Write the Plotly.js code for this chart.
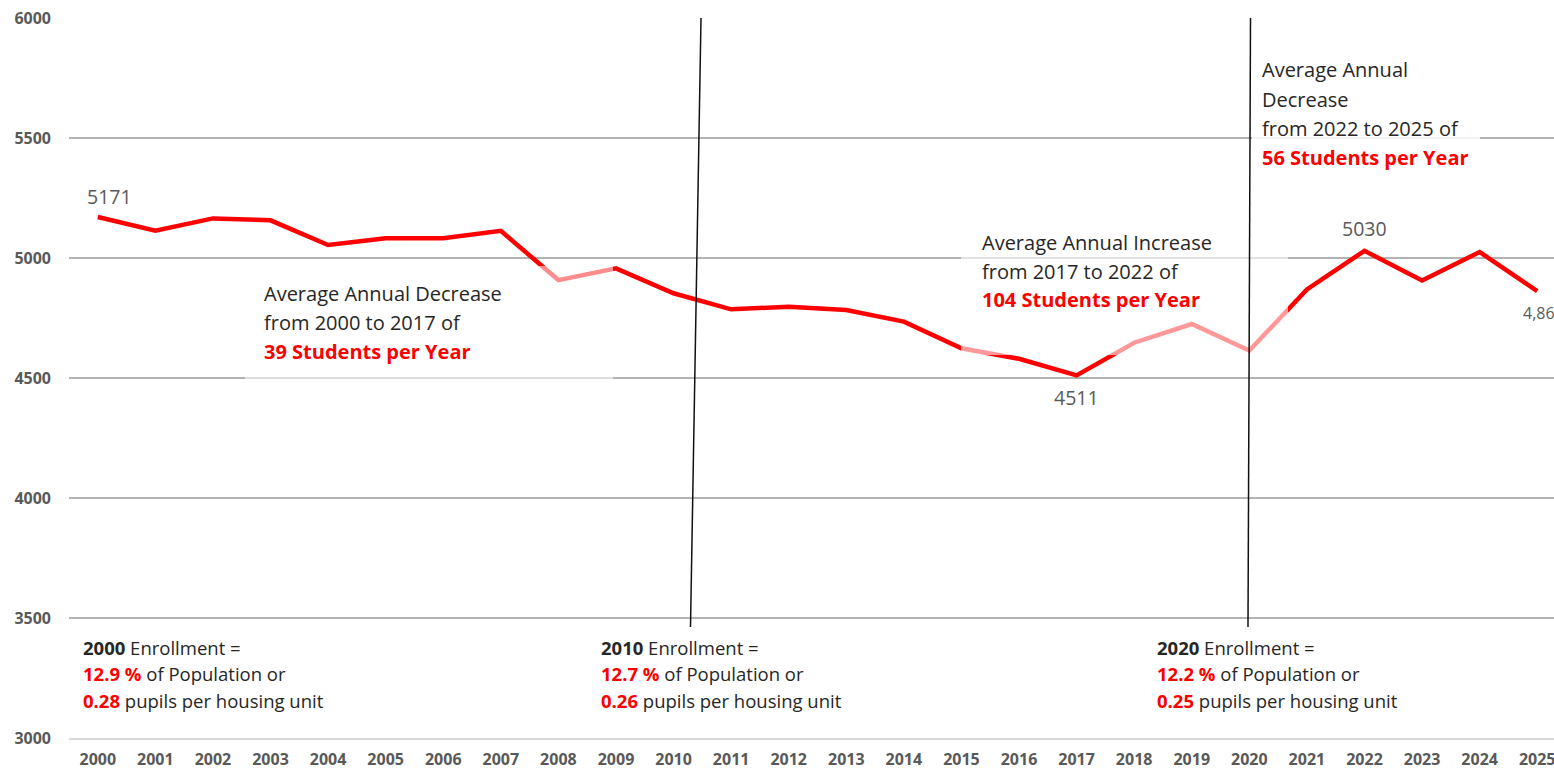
<!DOCTYPE html>
<html>
<head>
<meta charset="utf-8">
<script src="https://cdn.plot.ly/plotly-3.0.1.min.js"></script>
<style>
html,body{margin:0;padding:0;overflow:hidden;background:#fff;}
#chart{width:1580px;height:771px;}
</style>
</head>
<body>
<div id="chart"></div>
<script>
// ---- data ----
const years = [2000,2001,2002,2003,2004,2005,2006,2007,2008,2009,2010,2011,2012,2013,2014,2015,2016,2017,2018,2019,2020,2021,2022,2023,2024,2025];
const enrollment = [5171,5114,5165,5157,5054,5082,5082,5113,4908,4957,4853,4786,4797,4783,4735,4624,4580,4511,4647,4725,4614,4869,5030,4906,5025,4862];
const yTicks = [3000,3500,4000,4500,5000,5500,6000];
const labelledYears = [2000,2017,2022,2025];

const trendNotes = [
  ["Average Annual Decrease", "from 2000 to 2017 of", "39 Students per Year"],
  ["Average Annual Increase", "from 2017 to 2022 of", "104 Students per Year"],
  ["Average Annual", "Decrease", "from 2022 to 2025 of", "56 Students per Year"]
];
const censusYears = ["2000","2010","2020"];
const censusPct = ["12.9 %","12.7 %","12.2 %"];
const censusPupils = ["0.28","0.26","0.25"];

// ---- layout geometry (pixels) ----
const W = 1580, H = 771;
const L = 69, T = 18, PW = 1497, PH = 720;
function px(x){ return (x - L) / PW; }
function py(y){ return 1 - (y - T) / PH; }

const RED = '#ff0000';
const TXT = '#262626';
const GREY = '#595959';
const FONT = '"Open Sans", sans-serif';

const annotations = [];
// data labels
const lblShift = {2000:[12,20],2017:[0,-22],2022:[0,22],2025:[-16,-22]};
labelledYears.forEach(function(yr){
  const i = years.indexOf(yr);
  const v = enrollment[i];
  const txt = (yr === 2025) ? v.toLocaleString('en-US') : String(v);
  annotations.push({
    x: yr, y: v, xref:'x', yref:'y', text: txt, showarrow:false,
    xanchor: yr === 2025 ? 'left' : 'center', yanchor:'middle',
    xshift: lblShift[yr][0], yshift: lblShift[yr][1],
    font:{family:FONT, size: yr === 2025 ? 16 : 19.5, color:GREY}
  });
});

// trend notes
const noteLeft = [262, 980, 1260];
const noteTop = [293, 242, 70];
const lineGap = 29;
trendNotes.forEach(function(lines, k){
  lines.forEach(function(t, j){
    const last = j === lines.length - 1;
    annotations.push({
      xref:'paper', yref:'paper', x: px(noteLeft[k]), y: py(noteTop[k] + j*lineGap),
      xanchor:'left', yanchor:'middle', showarrow:false,
      text: last ? '<b>' + t + '</b>' : t,
      font:{family:FONT, size:20, color: last ? RED : TXT}
    });
  });
});

// census notes
const censusLeft = [81, 599, 1155];
censusYears.forEach(function(yr, k){
  const rows = [
    '<b>' + yr + '</b> Enrollment =',
    '<span style="color:' + RED + '"><b>' + censusPct[k] + '</b></span> of Population or',
    '<span style="color:' + RED + '"><b>' + censusPupils[k] + '</b></span> pupils per housing unit'
  ];
  rows.forEach(function(t, j){
    annotations.push({
      xref:'paper', yref:'paper', x: px(censusLeft[k]), y: py(647 + j*26.5),
      xanchor:'left', yanchor:'middle', showarrow:false, text:t,
      font:{family:FONT, size:18.5, color:TXT}
    });
  });
});

// shapes: faded boxes behind notes, divider lines
function box(x0,y0,x1,y1,op){
  return {type:'rect', xref:'paper', yref:'paper', x0:px(x0), x1:px(x1), y0:py(y1), y1:py(y0),
    fillcolor:'rgba(255,255,255,' + op + ')', line:{width:0}, layer:'above'};
}
function vline(xa,ya,xb,yb){
  return {type:'line', xref:'paper', yref:'paper', x0:px(xa), y0:py(ya), x1:px(xb), y1:py(yb),
    line:{color:'#111', width:1.5}, layer:'above'};
}
const shapes = [
  box(245,266,613,382,0.55),
  box(961,225,1288,355,0.6),
  vline(701,18,690.5,627),
  vline(1250.5,18,1248,627),
  box(1252,45,1480,180,0.85)
];

const trace = {
  x: years, y: enrollment, type:'scatter', mode:'lines',
  line:{color:RED, width:4.5}, hoverinfo:'x+y'
};

const layout = {
  width: W, height: H,
  margin:{l:L, r:W-L-PW, t:T, b:H-T-PH},
  paper_bgcolor:'#fff', plot_bgcolor:'#fff',
  showlegend:false,
  font:{family:FONT},
  xaxis:{
    type:'linear', range:[1999.5,2025.5], tickvals: years, ticktext: years.map(String),
    showgrid:false, zeroline:false, showline:true, linecolor:'#d9d9d9', linewidth:2,
    ticks:'', ticklabelstandoff: 6,
    tickfont:{family:FONT, size:16, color:GREY, weight:'bold'}
  },
  yaxis:{
    range:[3000,6000], tickvals: yTicks, ticktext: yTicks.map(String),
    showgrid:true, gridcolor:'#b3b3b3', gridwidth:2, zeroline:false, showline:false,
    ticks:'', ticklabelstandoff: 17,
    tickfont:{family:FONT, size:16, color:GREY, weight:'bold'}
  },
  annotations: annotations,
  shapes: shapes
};

Plotly.newPlot('chart', [trace], layout, {displayModeBar:false, staticPlot:true});
</script>
</body>
</html>
